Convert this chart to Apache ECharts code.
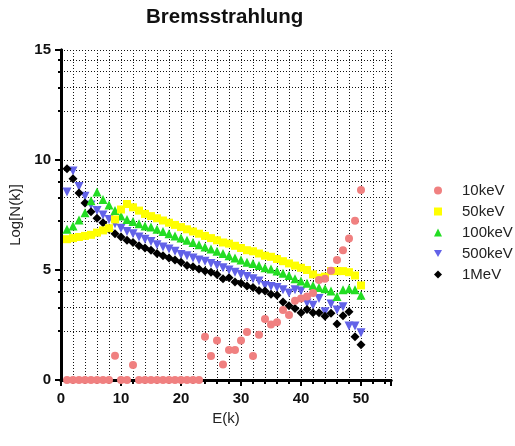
<!DOCTYPE html>
<html>
<head>
<meta charset="utf-8">
<script src="https://cdn.jsdelivr.net/npm/echarts@6/dist/echarts.min.js"></script>
<style>
  html, body { margin: 0; padding: 0; background: #fff; }
  #chart { width: 515px; height: 446px; }
</style>
</head>
<body>
<div id="chart"></div>
<script>
// energie k (x)
const energies = [1, 2, 3, 4, 5, 6, 7, 8, 9, 10, 11, 12, 13, 14, 15, 16, 17, 18, 19, 20,
  21, 22, 23, 24, 25, 26, 27, 28, 29, 30, 31, 32, 33, 34, 35, 36, 37, 38, 39, 40,
  41, 42, 43, 44, 45, 46, 47, 48, 49, 50];

// Log[N(k)] per serie
const kev10 = [0, 0, 0, 0, 0, 0, 0, 0, 1.1, 0, 0, 0.68, 0, 0, 0, 0, 0, 0, 0, 0,
  0, 0, 0, 1.97, 1.09, 1.79, 0.7, 1.36, 1.36, 1.79, 2.18, 1.09, 2.06, 2.77, 2.52, 2.62, 3.18, 2.95, 3.6, 3.7,
  3.8, 3.95, 4.55, 4.6, 4.97, 5.45, 5.9, 6.43, 7.24, 8.64];
const kev50 = [6.4, 6.45, 6.5, 6.55, 6.6, 6.7, 6.8, 6.9, 7.3, 7.75, 8.0, 7.85, 7.7, 7.55, 7.45, 7.35, 7.25, 7.15, 7.05, 6.95,
  6.85, 6.75, 6.65, 6.55, 6.45, 6.35, 6.25, 6.2, 6.1, 6.0, 5.9, 5.85, 5.75, 5.65, 5.6, 5.5, 5.4, 5.3, 5.2, 5.1,
  5.0, 4.8, 4.65, 4.7, 4.95, 4.95, 4.95, 4.9, 4.75, 4.3];
const kev100 = [6.85, 7.0, 7.27, 7.6, 8.15, 8.55, 8.2, 7.95, 7.7, 7.45, 7.3, 7.2, 7.1, 7.0, 6.95, 6.85, 6.75, 6.65, 6.55, 6.45,
  6.35, 6.25, 6.15, 6.05, 5.95, 5.85, 5.75, 5.65, 5.55, 5.45, 5.35, 5.3, 5.2, 5.1, 5.05, 4.95, 4.85, 4.75, 4.6, 4.5,
  4.4, 4.3, 4.2, 4.15, 4.05, 3.8, 4.1, 4.15, 4.1, 3.85];
const kev500 = [8.55, 9.5, 8.8, 8.35, 7.95, 7.7, 7.5, 7.3, 7.1, 6.9, 6.75, 6.65, 6.5, 6.4, 6.3, 6.15, 6.05, 5.95, 5.85, 5.7,
  5.65, 5.55, 5.45, 5.4, 5.3, 5.2, 5.1, 5.0, 4.9, 4.8, 4.7, 4.6, 4.5, 4.3, 4.25, 4.2, 4.1, 3.95, 4.1, 4.05,
  3.5, 3.4, 3.7, 3.1, 3.45, 3.18, 3.33, 2.45, 2.45, 2.15];
const mev1 = [9.6, 9.15, 8.5, 8.05, 7.65, 7.35, 7.15, 6.85, 6.65, 6.5, 6.35, 6.25, 6.1, 6.0, 5.9, 5.75, 5.65, 5.55, 5.45, 5.35,
  5.2, 5.15, 5.05, 4.95, 4.9, 4.8, 4.6, 4.65, 4.45, 4.4, 4.27, 4.2, 4.07, 4.05, 3.9, 3.85, 3.55, 3.38, 3.25, 3.06,
  3.2, 3.06, 3.06, 2.9, 3.03, 2.55, 2.92, 3.1, 1.97, 1.6];

// posizioni linee griglia orizzontali
const yGridValues = [0, 2.23, 3.29, 4.02, 4.55, 5, 7.23, 8.29, 9.02, 9.55, 10, 12.23, 13.29, 14.02, 14.55, 15];
const yLabelValues = [0, 5, 10, 15];

const FONT = "'Liberation Sans', Arial, sans-serif";
const downTriangle = "path://M0,0L10,0L5,9Z";

const toPairs = (vals) => energies.map((e, i) => [e, vals[i]]);

const dotted = { color: "#111", width: 1, type: [1, 2] };
const noLabel = { show: false };

const chart = echarts.init(document.getElementById("chart"));

const option = {
  animation: false,
  title: {
    text: "Bremsstrahlung",
    left: 146,
    top: 7,
    padding: 0,
    textStyle: { fontFamily: FONT, fontSize: 20.5, fontWeight: "bold", color: "#111" },
  },
  legend: {
    orient: "vertical",
    left: 429,
    top: 178,
    itemWidth: 8,
    itemHeight: 8,
    itemGap: 6,
    textStyle: { fontFamily: FONT, fontSize: 15, color: "#222", padding: [0, 0, 0, 15] },
    data: ["10keV", "50keV", "100keV", "500keV", "1MeV"],
  },
  grid: { left: 61, top: 50, right: 124, bottom: 66, containLabel: false },
  xAxis: [
    {
      type: "value", position: "bottom", min: 0, max: 55, interval: 10,
      name: "E(k)", nameLocation: "middle", nameGap: 21,
      nameTextStyle: { fontFamily: FONT, fontSize: 15, color: "#222" },
      axisLine: { lineStyle: { color: "#000", width: 3 } },
      axisTick: { length: 6, lineStyle: { color: "#000", width: 2 } },
      axisLabel: {
        margin: 11, fontFamily: FONT, fontSize: 15, fontWeight: "bold", color: "#111",
        formatter: (v) => (v <= 50 ? v : ""),
      },
      splitLine: { show: false },
    },
    {
      type: "value", position: "bottom", min: 0, max: 55, interval: 2,
      axisLine: { show: false },
      axisTick: { length: 4, lineStyle: { color: "#000", width: 2 } },
      axisLabel: noLabel,
      splitLine: { show: true, lineStyle: dotted },
    },
    {
      type: "value", position: "top", min: 0, max: 55, interval: 2,
      axisLine: { lineStyle: { color: "#000", width: 3 } },
      axisTick: { inside: true, length: 4, lineStyle: { color: "#000", width: 2 } },
      axisLabel: noLabel,
      splitLine: { show: false },
    },
    {
      type: "value", position: "top", min: 0, max: 55, interval: 10,
      axisLine: { show: false },
      axisTick: { inside: true, length: 6, lineStyle: { color: "#000", width: 2 } },
      axisLabel: noLabel,
      splitLine: { show: false },
    },
  ],
  yAxis: [
    {
      type: "value", position: "left", min: 0, max: 15, interval: 5,
      name: "Log[N(k)]", nameLocation: "middle", nameGap: 34,
      nameTextStyle: { fontFamily: FONT, fontSize: 15, color: "#222" },
      axisLine: { lineStyle: { color: "#000", width: 3 } },
      axisTick: { length: 6, lineStyle: { color: "#000", width: 2 } },
      axisLabel: { margin: 10, fontFamily: FONT, fontSize: 15, fontWeight: "bold", color: "#111" },
      splitLine: { show: false },
    },
    {
      type: "value", position: "left", min: 0, max: 15,
      axisLine: { show: false },
      axisTick: { length: 3, customValues: yGridValues, lineStyle: { color: "#000", width: 2 } },
      axisLabel: { show: false, customValues: yLabelValues },
      splitLine: { show: true, lineStyle: dotted },
    },
    {
      type: "value", position: "right", min: 0, max: 15,
      axisLine: { lineStyle: { color: "#000", width: 3 } },
      axisTick: { inside: true, length: 3, customValues: yGridValues, lineStyle: { color: "#000", width: 2 } },
      axisLabel: { show: false, customValues: yLabelValues },
      splitLine: { show: false },
    },
    {
      type: "value", position: "right", min: 0, max: 15, interval: 5,
      axisLine: { show: false },
      axisTick: { inside: true, length: 6, lineStyle: { color: "#000", width: 2 } },
      axisLabel: noLabel,
      splitLine: { show: false },
    },
  ],
  series: [
    { name: "10keV", type: "scatter", clip: false, z: 7, symbol: "circle", symbolSize: 8,
      itemStyle: { color: "#F08080", opacity: 1 }, data: toPairs(kev10) },
    { name: "50keV", type: "scatter", clip: false, z: 6, symbol: "rect", symbolSize: 8,
      itemStyle: { color: "#FFFF00", opacity: 1 }, data: toPairs(kev50) },
    { name: "100keV", type: "scatter", clip: false, z: 5, symbol: "triangle", symbolSize: 9,
      itemStyle: { color: "#22DD22", opacity: 1 }, data: toPairs(kev100) },
    { name: "500keV", type: "scatter", clip: false, z: 3, symbol: downTriangle, symbolSize: 9,
      itemStyle: { color: "#6262E8", opacity: 1 }, data: toPairs(kev500) },
    { name: "1MeV", type: "scatter", clip: false, z: 4, symbol: "diamond", symbolSize: 9,
      itemStyle: { color: "#000", opacity: 1 }, data: toPairs(mev1) },
  ],
};

chart.setOption(option);
window.addEventListener("resize", chart.resize);
</script>
</body>
</html>
